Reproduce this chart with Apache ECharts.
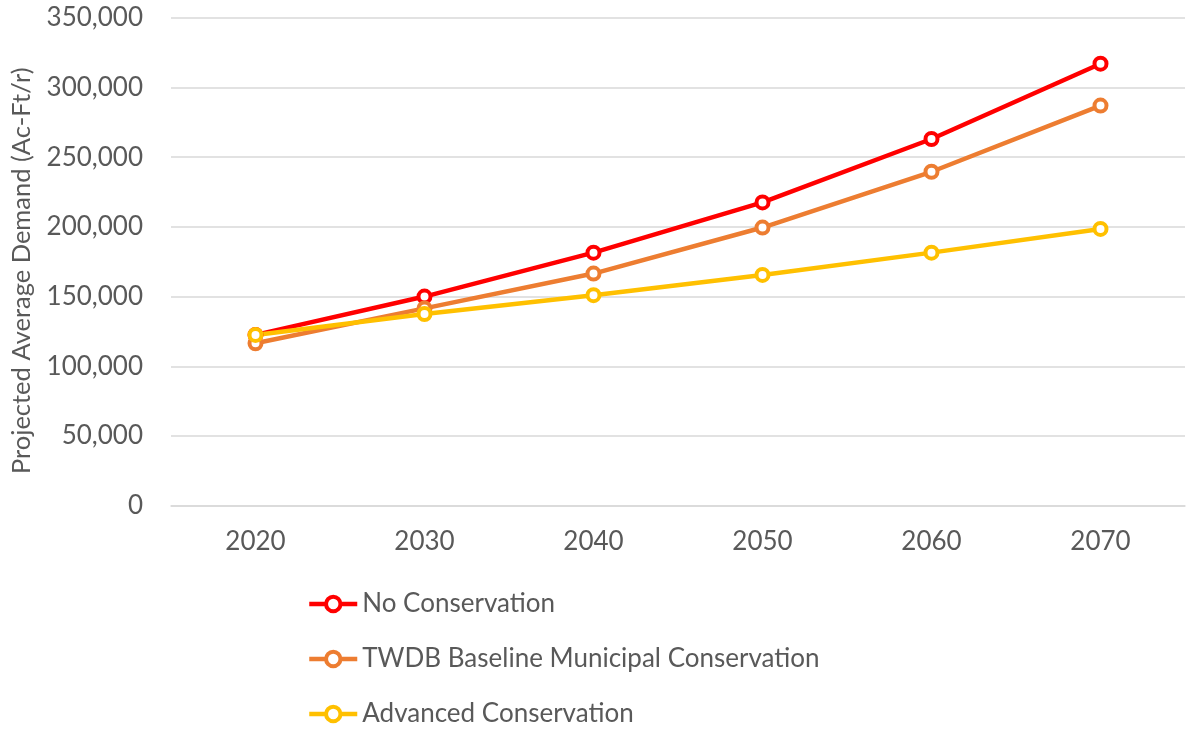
<!DOCTYPE html>
<html>
<head>
<meta charset="utf-8">
<script src="https://cdn.jsdelivr.net/npm/echarts@6/dist/echarts.min.js"></script>
<style>
html,body{margin:0;padding:0;background:#fff;}
#chart{width:1186px;height:734px;}
</style>
</head>
<body>
<div id="chart"></div>
<script>
const years = ['2020', '2030', '2040', '2050', '2060', '2070'];
const noConservation = [122500, 150000, 181500, 217500, 263000, 317000];
const twdbBaseline = [116500, 141500, 166500, 199500, 239500, 287000];
const advancedConservation = [122500, 137500, 151000, 165500, 181500, 198500];
const seriesNames = ['No Conservation', 'TWDB Baseline Municipal Conservation', 'Advanced Conservation'];
const seriesColors = ['#FF0000', '#ED7D31', '#FFC000'];
const yAxisTitle = 'Projected Average Demand (Ac-Ft/r)';

const FONT = 'Lato';
const TEXT = '#595959';

const chart = echarts.init(document.getElementById('chart'));
const dataSets = [noConservation, twdbBaseline, advancedConservation];

chart.setOption({
  animation: false,
  textStyle: { fontFamily: FONT },
  grid: { left: 171, right: 1, top: 17.7, bottom: 228.3, containLabel: false },
  legend: {
    orient: 'vertical',
    left: 307,
    top: 589,
    height: 160,
    padding: 0,
    itemWidth: 48,
    itemHeight: 18,
    itemGap: 25,
    data: seriesNames,
    lineStyle: { width: 4.5 },
    itemStyle: { borderWidth: 4 },
    textStyle: { color: TEXT, fontSize: 26, lineHeight: 30, fontFamily: FONT }
  },
  xAxis: {
    type: 'category',
    data: years,
    boundaryGap: true,
    axisLine: { show: true, lineStyle: { color: '#D9D9D9', width: 1.5 } },
    axisTick: { show: false },
    axisLabel: { color: TEXT, fontSize: 26, margin: 23, fontFamily: FONT },
    splitLine: { show: false }
  },
  yAxis: {
    type: 'value',
    min: 0,
    max: 350000,
    interval: 50000,
    name: yAxisTitle,
    nameLocation: 'middle',
    nameGap: 136,
    nameRotate: 90,
    nameTextStyle: { color: TEXT, fontSize: 25.5, fontFamily: FONT, padding: [0, 18, 0, 0] },
    axisLine: { show: false },
    axisTick: { show: false },
    axisLabel: {
      color: TEXT, fontSize: 26, margin: 28, fontFamily: FONT,
      formatter: v => v.toLocaleString('en-US')
    },
    splitLine: { lineStyle: { color: '#D9D9D9', width: 1.5 } }
  },
  series: dataSets.map((d, i) => ({
    name: seriesNames[i],
    type: 'line',
    data: d,
    color: seriesColors[i],
    symbol: 'circle',
    symbolSize: 12,
    lineStyle: { width: 4.5, color: seriesColors[i] },
    itemStyle: { color: '#FFFFFF', borderColor: seriesColors[i], borderWidth: 4 }
  }))
});
</script>
</body>
</html>
